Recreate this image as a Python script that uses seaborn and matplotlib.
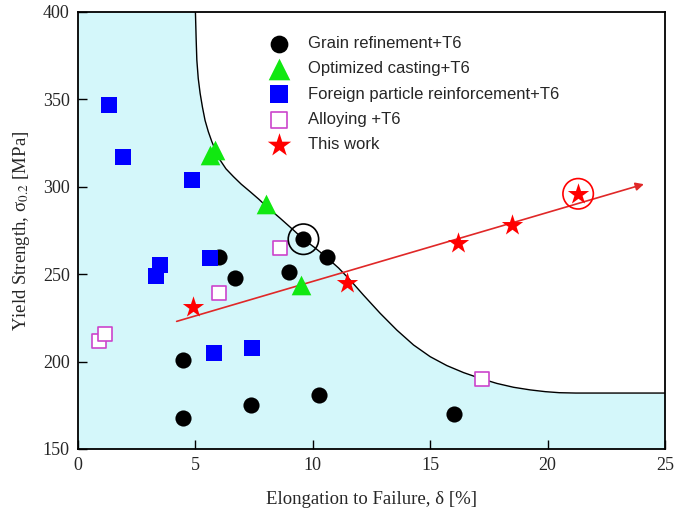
import numpy as np
import matplotlib
matplotlib.use("Agg")
import matplotlib.pyplot as plt
import seaborn as sns

# data
grain_x = [4.45, 4.45, 7.35, 10.25, 6.7, 6.0, 9.0, 10.6, 9.6, 16.0]
grain_y = [168, 201, 175, 181, 248, 260, 251, 260, 270, 170]

casting_x = [5.6, 5.85, 8.0, 9.5]
casting_y = [318, 321, 290, 244]

particle_x = [1.3, 1.9, 4.87, 5.6, 3.5, 3.3, 5.8, 7.4]
particle_y = [347, 317, 304, 259, 255, 249, 205, 208]

alloy_x = [8.6, 6.0, 0.9, 1.15, 17.2]
alloy_y = [265, 239, 212, 216, 190]

work_x = [4.9, 11.45, 16.2, 18.5, 21.3]
work_y = [231, 245, 268, 278, 296]

# highlighted points (circled)
circled_x = [9.6, 21.3]
circled_y = [270, 296]
circled_colors = ["black", "red"]

# trend arrow for this work
trend_x = [4.2, 24.1]
trend_y = [223, 301.5]

# upper boundary of previously reported properties
bound_x = [5.0, 5.03, 5.06, 5.12, 5.2, 5.3, 5.41, 5.55, 5.7, 5.87, 6.05, 6.3,
           6.62, 6.95, 7.33, 7.7, 8.04, 8.61, 9.17, 9.6, 10.1, 10.6, 11.1,
           11.6, 12.16, 12.87, 13.58, 14.29, 15.0, 15.71, 16.42, 17.13,
           17.84, 18.55, 19.26, 19.9, 20.5, 21.2, 25.0]
bound_y = [400, 385, 372.5, 362, 353.5, 345.5, 338, 331.5, 325.8, 320.3, 315.3, 310.3,
           305.8, 301.5, 297.2, 292.9, 288.6, 282, 275.3, 270, 265, 259.5, 253.5,
           246.5, 238, 227.6, 218, 209.5, 202.8, 197.7, 193.7, 190.4,
           187.5, 185.3, 183.8, 182.8, 182.2, 182, 182]

sns.set_style("ticks")
plt.rcParams["font.family"] = ["Liberation Serif", "DejaVu Serif"]
plt.rcParams["mathtext.fontset"] = "stix"

fig = plt.figure(figsize=(6.75, 5.19), dpi=100)
ax = fig.add_axes([0.1156, 0.1349, 0.8696, 0.842])

fx = np.concatenate([[0], bound_x])
fy = np.concatenate([[400], bound_y])
ax.fill_between(fx, 150, fy, color="#d4f7fa", lw=0, zorder=0)
sns.lineplot(x=bound_x, y=bound_y, color="black", lw=1.0, sort=False, ax=ax, zorder=1)

ax.annotate("", xy=(trend_x[1], trend_y[1]), xytext=(trend_x[0], trend_y[0]),
            arrowprops=dict(arrowstyle="-|>", color="#e02828", lw=1.2,
                            mutation_scale=12, shrinkA=0, shrinkB=0), zorder=2)

sns.scatterplot(x=grain_x, y=grain_y, marker="o", color="black", s=135, linewidth=0,
                label="Grain refinement+T6", ax=ax, zorder=3)
sns.scatterplot(x=casting_x, y=casting_y, marker="^", color="#11e811", s=200, linewidth=0,
                label="Optimized casting+T6", ax=ax, zorder=3)
sns.scatterplot(x=particle_x, y=particle_y, marker="s", color="#0000ff", s=125, linewidth=0,
                label="Foreign particle reinforcement+T6", ax=ax, zorder=3)
sns.scatterplot(x=alloy_x, y=alloy_y, marker="s", facecolor="white", edgecolor="#cc44cc",
                s=115, linewidth=1.2, label="Alloying +T6", ax=ax, zorder=3)
sns.scatterplot(x=work_x, y=work_y, marker="*", color="#ff0000", s=260, linewidth=0,
                label="This work", ax=ax, zorder=4)
for cx, cy, cc in zip(circled_x, circled_y, circled_colors):
    ax.scatter(cx, cy, s=480, facecolor="none", edgecolor=cc, linewidth=1.2, zorder=5)

ax.set_xlim(0, 25)
ax.set_ylim(150, 400)
ax.set_xticks([0, 5, 10, 15, 20, 25])
ax.set_yticks([150, 200, 250, 300, 350, 400])
ax.tick_params(bottom=True, left=True, top=False, right=False, direction="in",
               length=6.5, width=1, labelsize=13, pad=6, color="black")
for sp in ax.spines.values():
    sp.set_visible(True)
    sp.set_linewidth(1.3)
    sp.set_color("black")

ax.set_xlabel("Elongation to Failure, δ [%]", fontsize=13.5, labelpad=12)
ax.set_ylabel("Yield Strength, σ$_{0.2}$ [MPa]", fontsize=13.5, labelpad=8)

leg = ax.legend(loc="upper left", bbox_to_anchor=(0.321, 0.945), frameon=False,
                handlelength=1.5, handletextpad=1.0, labelspacing=0.62,
                borderpad=0, borderaxespad=0, markerscale=1.1,
                prop={"family": "Liberation Sans", "size": 12})

fig.savefig("out.png", dpi=100)
